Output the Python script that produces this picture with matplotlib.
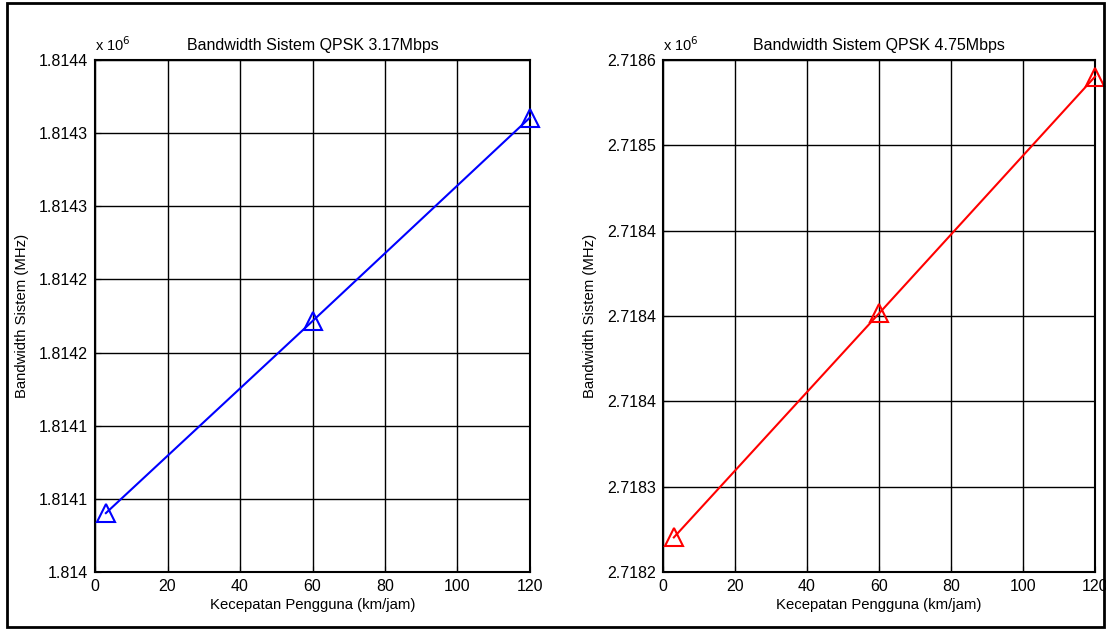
import numpy as np
import matplotlib.pyplot as plt
from matplotlib.patches import Rectangle

plt.rcParams['font.family'] = ['Liberation Sans', 'DejaVu Sans']

kecepatan = [3, 60, 120]
bw_317 = [1814046, 1814196, 1814355]
bw_475 = [2718227, 2718402, 2718587]

ticks_x = [0, 20, 40, 60, 80, 100, 120]

# 8 label sumbu y (dibulatkan 4 desimal)
yticks_317 = [1814000 + 400 * k / 7 for k in range(8)]
ylabels_317 = ['1.814', '1.8141', '1.8141', '1.8142', '1.8142', '1.8143', '1.8143', '1.8144']

yticks_475 = [2718200 + 400 * k / 6 for k in range(7)]
ylabels_475 = ['2.7182', '2.7183', '2.7184', '2.7184', '2.7184', '2.7185', '2.7186']

judul = ['Bandwidth Sistem QPSK 3.17Mbps', 'Bandwidth Sistem QPSK 4.75Mbps']

fig = plt.figure(figsize=(11.06, 6.30), dpi=100)
ax1 = fig.add_axes([0.0859, 0.0921, 0.3933, 0.8127])
ax2 = fig.add_axes([0.5995, 0.0921, 0.3906, 0.8127])


def gambar(ax, y, warna, yt, yl, ylim, judul_plot):
    ax.plot(kecepatan, y, color=warna, lw=1.5, marker='^', ms=13,
            mfc='none', mec=warna, mew=1.5, clip_on=False, zorder=5)
    ax.set_xlim(0, 120)
    ax.set_ylim(*ylim)
    ax.set_xticks(ticks_x)
    ax.set_yticks(yt)
    ax.set_yticklabels(yl)
    ax.grid(True, color='black', lw=1, ls='-')
    ax.tick_params(direction='in', labelsize=11.5, length=4, pad=5)
    for s in ax.spines.values():
        s.set_linewidth(1.5)
    ax.set_title(judul_plot, fontsize=11.5, pad=7)
    ax.set_xlabel('Kecepatan Pengguna (km/jam)', fontsize=10.7, labelpad=3)
    ax.set_ylabel('Bandwidth Sistem (MHz)', fontsize=10.7, labelpad=7)
    ax.text(0, 1.012, r'x 10$^6$', transform=ax.transAxes, fontsize=10.5,
            ha='left', va='bottom')


gambar(ax1, bw_317, 'blue', yticks_317, ylabels_317, (1814000, 1814400), judul[0])
gambar(ax2, bw_475, 'red', yticks_475, ylabels_475, (2718200, 2718600), judul[1])

fig.patches.append(Rectangle((0.006, 0.004), 0.992, 0.991, transform=fig.transFigure,
                             fill=False, edgecolor='black', lw=2))

fig.savefig('out.png', dpi=100)
